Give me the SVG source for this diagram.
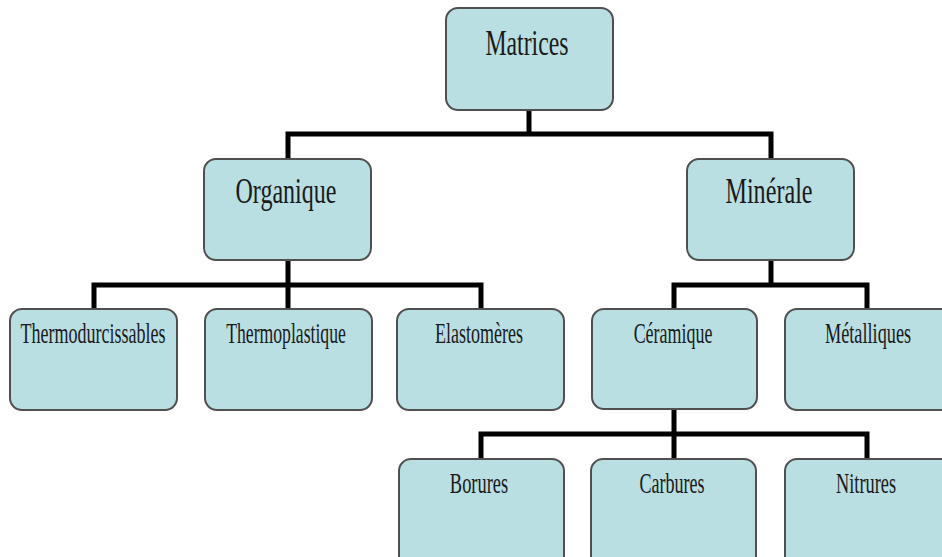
<svg xmlns="http://www.w3.org/2000/svg" width="942" height="557" viewBox="0 0 942 557">
<style>
.box{fill:#b9dfe3;stroke:#505050;stroke-width:2}
.lbl{font-family:"Liberation Serif","Times New Roman",serif;fill:#1a1a1a;text-anchor:middle}
.l1{font-size:36px}
.l3{font-size:29px}
.con{fill:none;stroke:#000;stroke-width:5;stroke-linejoin:miter;stroke-linecap:butt}
</style>
<rect width="942" height="557" fill="#fff"/>
<g id="connectors">
<polyline class="con" points="529,110 529,134"/>
<polyline class="con" points="288,159 288,134 771,134 771,159"/>
<polyline class="con" points="288,260 288,309"/>
<polyline class="con" points="94,309 94,285 481,285 481,309"/>
<polyline class="con" points="771,260 771,285"/>
<polyline class="con" points="674,309 674,285 867,285 867,309"/>
<polyline class="con" points="674,409 674,459"/>
<polyline class="con" points="481,459 481,434 867,434 867,459"/>
</g>
<g id="matrices"><rect class="box" x="446" y="8" width="167" height="102" rx="12"/><text class="lbl l1" transform="translate(527,55) scale(0.66,1)" textLength="126" lengthAdjust="spacingAndGlyphs">Matrices</text></g>
<g id="organique"><rect class="box" x="204" y="159" width="167" height="101" rx="12"/><text class="lbl l1" transform="translate(286,203) scale(0.66,1)" textLength="153" lengthAdjust="spacingAndGlyphs">Organique</text></g>
<g id="minerale"><rect class="box" x="687" y="159" width="167" height="101" rx="12"/><text class="lbl l1" transform="translate(769,203) scale(0.66,1)" textLength="132" lengthAdjust="spacingAndGlyphs">Minérale</text></g>
<g id="thermodurcissables"><rect class="box" x="10" y="309" width="167" height="101" rx="12"/><text class="lbl l3" transform="translate(93,343) scale(0.62,1)" textLength="234" lengthAdjust="spacingAndGlyphs">Thermodurcissables</text></g>
<g id="thermoplastique"><rect class="box" x="205" y="309" width="167" height="101" rx="12"/><text class="lbl l3" transform="translate(286,343) scale(0.62,1)" textLength="193" lengthAdjust="spacingAndGlyphs">Thermoplastique</text></g>
<g id="elastomeres"><rect class="box" x="397" y="309" width="167" height="101" rx="12"/><text class="lbl l3" transform="translate(479,343) scale(0.62,1)" textLength="142" lengthAdjust="spacingAndGlyphs">Elastomères</text></g>
<g id="ceramique"><rect class="box" x="592" y="309" width="165" height="100" rx="12"/><text class="lbl l3" transform="translate(673,343) scale(0.62,1)" textLength="127" lengthAdjust="spacingAndGlyphs">Céramique</text></g>
<g id="metalliques"><rect class="box" x="785" y="309" width="170" height="101" rx="12"/><text class="lbl l3" transform="translate(868,343) scale(0.62,1)" textLength="139" lengthAdjust="spacingAndGlyphs">Métalliques</text></g>
<g id="borures"><rect class="box" x="399" y="459" width="165" height="110" rx="12"/><text class="lbl l3" transform="translate(479,493) scale(0.62,1)" textLength="94" lengthAdjust="spacingAndGlyphs">Borures</text></g>
<g id="carbures"><rect class="box" x="591" y="459" width="165" height="110" rx="12"/><text class="lbl l3" transform="translate(672,493) scale(0.62,1)" textLength="105" lengthAdjust="spacingAndGlyphs">Carbures</text></g>
<g id="nitrures"><rect class="box" x="785" y="459" width="170" height="110" rx="12"/><text class="lbl l3" transform="translate(866,493) scale(0.62,1)" textLength="97" lengthAdjust="spacingAndGlyphs">Nitrures</text></g>
</svg>
